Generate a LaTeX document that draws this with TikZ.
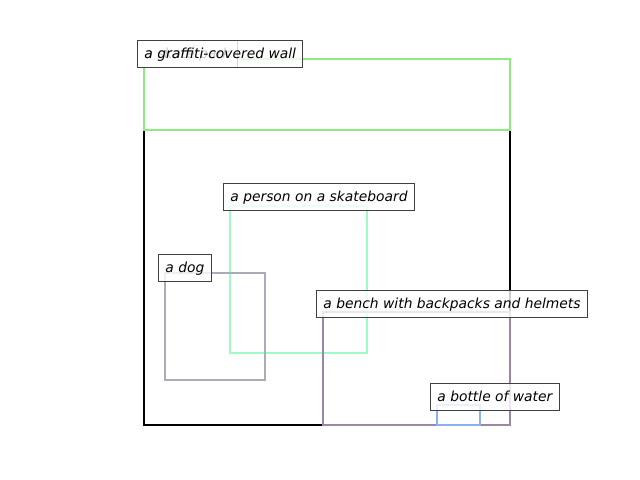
\documentclass[tikz,border=0pt]{standalone}
\usepackage{fontspec}
\setmainfont{DejaVu Sans}
\definecolor{wallgreen}{RGB}{144,234,130}
\definecolor{persongreen}{RGB}{160,250,200}
\definecolor{doggray}{RGB}{170,172,185}
\definecolor{benchpurple}{RGB}{155,135,165}
\definecolor{bottleblue}{RGB}{140,175,245}
\tikzset{
  boxline/.style={line width=1.44pt},
  tag/.style={draw=black!75, line width=0.7pt, fill=white, fill opacity=0.8,
    text opacity=1, anchor=base west, inner xsep=5pt, inner ysep=4pt,
    text height=9.5pt, text depth=2pt, font=\itshape}
}

\begin{document}
\begin{tikzpicture}[x=0.01in, y=-0.01in]
      \useasboundingbox (0, 0) rectangle (640, 480);

      \draw [boxline, black] (144, 59) rectangle (510, 425);
      \draw [boxline, wallgreen] (144, 59) rectangle (510, 130);
      \draw [boxline, persongreen] (230, 206) rectangle (367, 353);
      \draw [boxline, doggray] (165, 273) rectangle (265, 380);
      \draw [boxline, benchpurple] (323, 312) rectangle (510, 425);
      \draw [boxline, bottleblue] (437, 405) rectangle (480, 425);

      \node [tag] (park) at (137, 59) {a skate park};
      \node [tag] (wall) at (137, 59) {a graffiti-covered wall};
      \node [tag] (person) at (223, 202) {a person on a skateboard};
      \node [tag] (dog) at (158, 273) {a dog};
      \node [tag] (bench) at (316, 309) {a bench with backpacks and helmets};
      \node [tag] (bottle) at (430, 402) {a bottle of water};
    \end{tikzpicture}
\end{document}
